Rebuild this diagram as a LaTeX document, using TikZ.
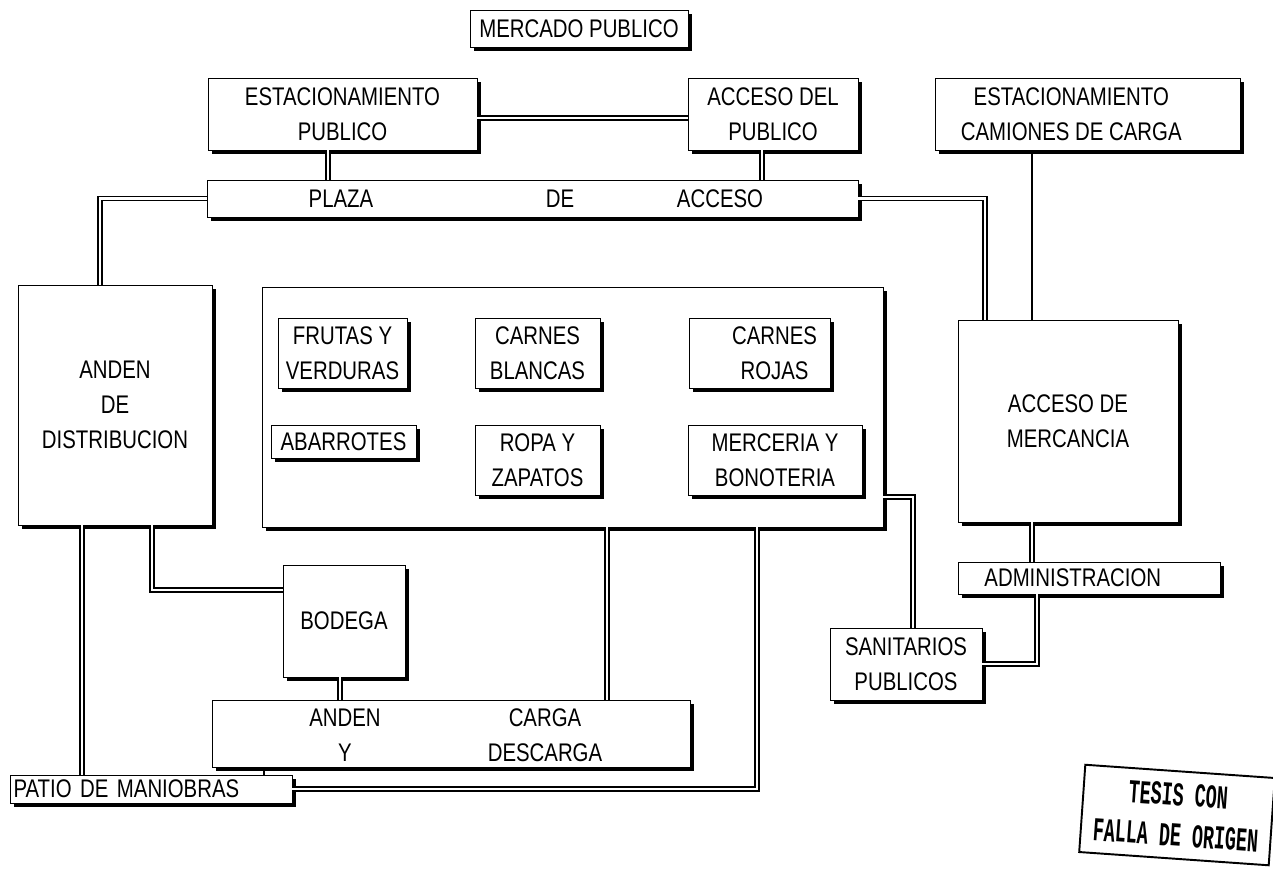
\documentclass[tikz,border=0pt]{standalone}
\usepackage{fontspec}
\setmainfont{Liberation Sans}[FakeStretch=0.8]
\newfontfamily\sellofont{Liberation Mono}[FakeStretch=0.55]
\usetikzlibrary{shadows,calc}

\tikzset{
  caja/.style={draw, fill=white, line width=0.5pt, align=center, inner sep=1pt,
    drop shadow={shadow xshift=2.5pt, shadow yshift=-2.5pt, opacity=1, fill=black},
    font=\fontsize{14.5}{20}\selectfont},
  tam/.style 2 args={minimum width=#1cm, minimum height=#2cm},
  texto/.style={align=center, inner sep=0pt, font=\fontsize{14.5}{20}\selectfont},
  doble/.style={double, double distance=1.5pt, line width=0.8pt},
  simple/.style={line width=0.6pt},
  sello/.style={draw, line width=1.1pt, align=center,
    font=\sellofont\bfseries\fontsize{19}{23}\selectfont}
}

\begin{document}
\begin{tikzpicture}[x=0.02cm, y=-0.02cm]
  \useasboundingbox (0,0) rectangle (1273,870);
  % Titulo
  \node[caja, tam={4.36}{0.74}] (titulo) at (579,28.5) {MERCADO PUBLICO};
  % Fila superior
  \node[caja, tam={5.38}{1.44}] (estpub) at (342.5,114) {ESTACIONAMIENTO\\PUBLICO};
  \node[caja, tam={3.4}{1.44}] (accpub) at (773,114) {ACCESO DEL\\PUBLICO};
  \node[caja, tam={6.1}{1.44}] (estcam) at (1087.5,114)
    {ESTACIONAMIENTO\hspace*{0.65cm}\\CAMIONES DE CARGA\hspace*{0.65cm}};
  % Plaza de acceso
  \node[caja, tam={13.02}{0.74}] (plaza) at (532.5,198.5) {};
  \foreach \x/\palabra in {341/PLAZA, 560/DE, 720/ACCESO}
    \node[texto] (plaza-\x) at (\x,198.5) {\palabra};
  % Andenes y bloque de locales
  \node[caja, tam={3.88}{4.8}] (andist) at (115,405) {ANDEN\\DE\\DISTRIBUCION};
  \node[caja, tam={12.42}{4.8}] (bloque) at (572.5,407) {};
  \node[caja, tam={2.58}{1.4}] (frutas) at (342.5,353) {FRUTAS Y\\VERDURAS};
  \node[caja, tam={2.5}{1.4}] (cblancas) at (537.5,353) {CARNES\\BLANCAS};
  \node[caja, tam={2.82}{1.4}] (crojas) at (759.5,353)
    {\hspace*{0.6cm}CARNES\\\hspace*{0.6cm}ROJAS};
  \node[caja, tam={2.9}{0.66}] (abarrotes) at (343.5,441.5) {ABARROTES};
  \node[caja, tam={2.5}{1.4}] (ropa) at (537.5,460) {ROPA Y\\ZAPATOS};
  \node[caja, tam={3.48}{1.4}] (merceria) at (775,460) {MERCERIA Y\\BONOTERIA};
  % Lado derecho
  \node[caja, tam={4.4}{4.04}] (accmer) at (1068,421) {ACCESO DE\\MERCANCIA};
  \node[caja, tam={5.24}{0.64}] (admin) at (1089,578) {ADMINISTRACION\hspace*{0.65cm}};
  \node[caja, tam={3.04}{1.44}] (sanit) at (906,664) {SANITARIOS\\PUBLICOS};
  % Parte baja
  \node[caja, tam={2.44}{2.24}] (bodega) at (344,621) {BODEGA};
  \node[caja, tam={9.56}{1.34}] (andcd) at (451,733.5) {};
  \node[texto] (andcd-a) at (345,735) {ANDEN\\Y};
  \node[texto] (andcd-b) at (545,735) {CARGA\\DESCARGA};
  \node[caja, tam={5.64}{0.56}, text width=5.5cm, align=left] (patio) at (151,789)
    {PATIO DE MANIOBRAS};
  % Sello
  \node[sello, rotate=-4, minimum width=3.8cm, minimum height=1.75cm] (sello)
    at (1177,815) {TESIS CON\\FALLA DE ORIGEN};

  % Conexiones dobles
  \draw[doble] ($(estpub.east)+(0,4)$) -- ($(accpub.west)+(0,4)$);
  \draw[doble] ($(estpub.south)+(-14.5,0)$) coordinate (e1) -- (e1 |- plaza.north);
  \draw[doble] ($(accpub.south)+(-11,0)$) coordinate (e2) -- (e2 |- plaza.north);
  \draw[doble] (plaza.west) -| ($(andist.north)+(-15,0)$);
  \draw[doble] (plaza.east) -| ($(accmer.north)+(-83,0)$);
  \draw[doble] ($(accmer.south)+(-36,0)$) coordinate (e3) -- (e3 |- admin.north);
  \draw[doble] ($(admin.south)+(-52,0)$) |- (sanit.east);
  \draw[doble] ($(bloque.east)+(0,90)$) -| ($(sanit.north)+(7,0)$);
  \draw[doble] ($(andist.south)+(37,0)$) |- ($(bodega.west)+(0,-31)$);
  \draw[doble] ($(bodega.south)+(-4,0)$) coordinate (e4) -- (e4 |- andcd.north);
  \draw[doble] ($(bloque.south)+(34.5,0)$) coordinate (e5) -- (e5 |- andcd.north);
  \draw[doble] ($(bloque.south)+(184.5,0)$) |- (patio.east);
  \draw[doble] ($(andist.south)+(-33,0)$) coordinate (e6) -- (e6 |- patio.north);
  % Conexiones simples
  \draw[simple] ($(estcam.south)+(-55.5,0)$) coordinate (e7) -- (e7 |- accmer.north);
  \draw[simple] ($(andcd.south)+(-187,0)$) coordinate (e8) -- (e8 |- patio.north);
\end{tikzpicture}
\end{document}
